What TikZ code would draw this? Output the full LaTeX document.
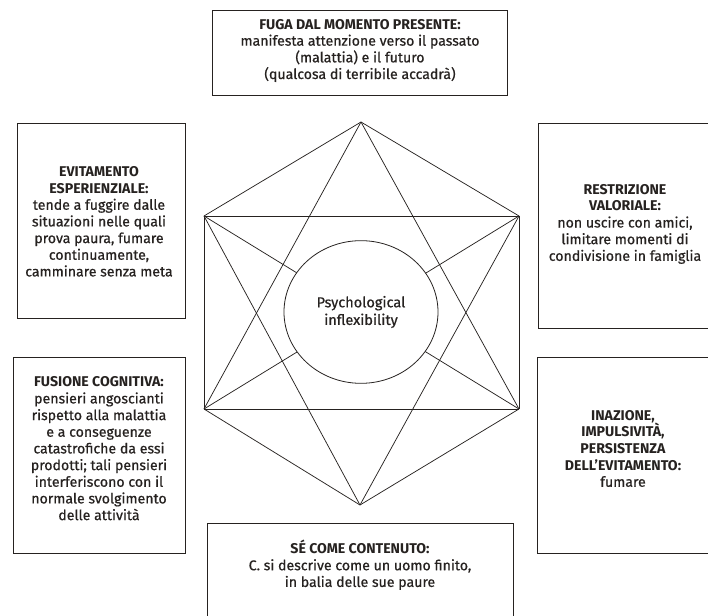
\documentclass[tikz,border=0pt]{standalone}
\usepackage{fontspec}
\setmainfont{Fira Sans}[UprightFeatures={FakeBold=0.6}]
\definecolor{ink}{RGB}{38,34,32}
\usetikzlibrary{positioning,calc,shapes.geometric}

\tikzset{
  panel/.style={draw=ink,line width=0.65pt,rectangle,inner sep=0pt},
  paneltext/.style={align=center,text=ink,inner sep=0pt,
    font=\fontsize{10.6}{12.5}\selectfont},
  spoke/.style={draw=ink,line width=0.55pt},
  hub/.style={ellipse,draw=ink,fill=white,line width=0.6pt,inner sep=0pt,
    align=center,text=ink,font=\fontsize{10.9}{13.2}\selectfont},
}

\begin{document}
\begin{tikzpicture}[x=0.75pt,y=-0.75pt]
  \clip (0,0) rectangle (708,616);
  \fill[white] (0,0) rectangle (708,616);

  % corners of the hexagon
  \coordinate (top) at (361,122);
  \coordinate (ul) at (204,216);
  \coordinate (ur) at (519,216);
  \coordinate (ll) at (204,409);
  \coordinate (lr) at (519,409);
  \coordinate (bot) at (360,505);

  \foreach \a/\b in {top/ul,top/ur,ul/ll,ur/lr,ll/bot,lr/bot,ul/ur,ll/lr,
                     top/ll,top/lr,bot/ul,bot/ur,ul/lr,ll/ur}
    \draw[spoke] (\a) -- (\b);

  \node[hub,minimum width=115.5pt,minimum height=107pt] (hub) at (361,312)
    {Psychological\\inflexibility};

  % boxes round the hexagon
  \node[panel,minimum width=221.25pt,minimum height=63.75pt] (fugaBox) at (359.5,52.5) {};
  \node[paneltext] (fugaText) at (360,50.5)
    {\textbf{FUGA DAL MOMENTO PRESENTE:}\\manifesta attenzione verso il passato\\
     (malattia) e il futuro\\(qualcosa di terribile accadrà)};

  \node[panel,minimum width=126pt,minimum height=146.25pt] (evitBox) at (101,220.5) {};
  \node[paneltext] (evitText) at (99,221.5)
    {\textbf{EVITAMENTO}\\\textbf{ESPERIENZIALE:}\\tende a fuggire dalle\\
     situazioni nelle quali\\prova paura, fumare\\continuamente,\\camminare senza meta};

  \node[panel,minimum width=144pt,minimum height=153.75pt] (restrBox) at (634,225.5) {};
  \node[paneltext] (restrText) at (625,224)
    {\textbf{RESTRIZIONE}\\\textbf{VALORIALE:}\\non uscire con amici,\\
     limitare momenti di\\condivisione in famiglia};

  \node[panel,minimum width=129pt,minimum height=147pt] (fusBox) at (99,455) {};
  \node[paneltext] (fusText) at (99,448.5)
    {\textbf{FUSIONE COGNITIVA:}\\pensieri angoscianti\\rispetto alla malattia\\
     e a conseguenze\\catastrofiche da essi\\prodotti; tali pensieri\\
     interferiscono con il\\normale svolgimento\\delle attività};

  \node[panel,minimum width=144.75pt,minimum height=147pt] (inazBox) at (633.5,455) {};
  \node[paneltext] (inazText) at (623,448.5)
    {\textbf{INAZIONE,}\\\textbf{IMPULSIVITÀ,}\\\textbf{PERSISTENZA}\\
     \textbf{DELL’EVITAMENTO:}\\fumare};

  \node[panel,minimum width=229.5pt,minimum height=102.75pt] (seBox) at (360,591.5) {};
  \node[paneltext] (seText) at (360,565)
    {\textbf{SÉ COME CONTENUTO:}\\C. si descrive come un uomo finito,\\in balia delle sue paure};
\end{tikzpicture}
\end{document}
